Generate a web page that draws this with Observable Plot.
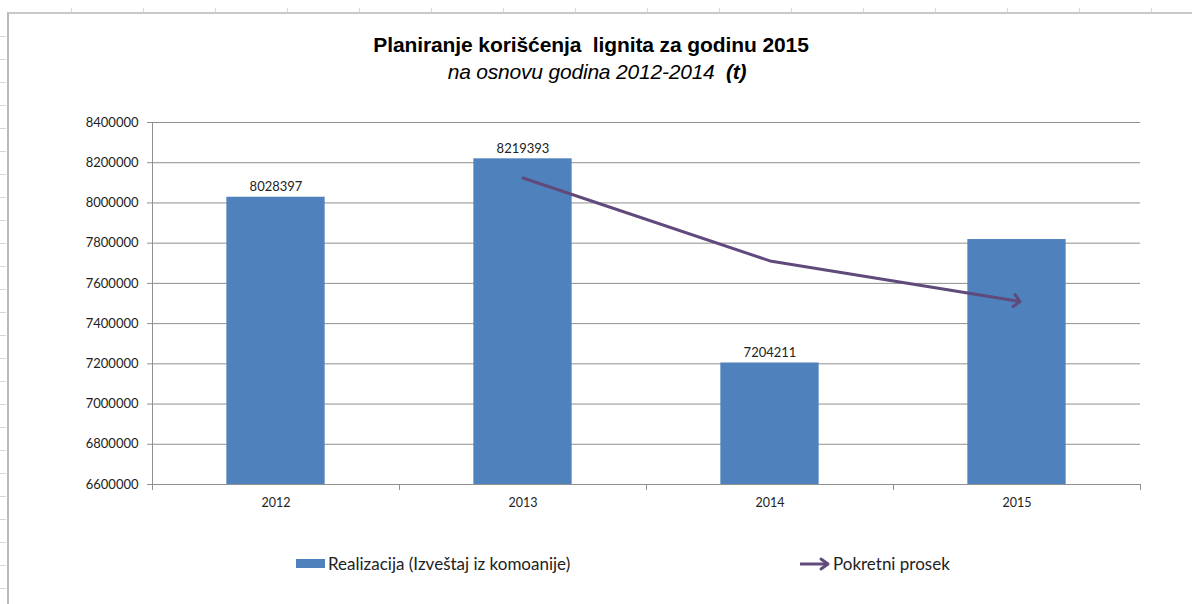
<!DOCTYPE html>
<html>
<head>
<meta charset="utf-8">
<script src="https://cdn.jsdelivr.net/npm/d3@7"></script>
<script src="https://cdn.jsdelivr.net/npm/@observablehq/plot@0.6"></script>
<style>
  html, body { margin: 0; padding: 0; background: #fff; }
  #page { position: relative; width: 1192px; height: 604px; overflow: hidden; background: #fff; }
  #sheetTop { position: absolute; left: 0; top: 8px; width: 1192px; height: 5px;
    background: repeating-linear-gradient(90deg, transparent 0 71px, #d6d6d6 71px 72px); }
  #sheetLeft { position: absolute; left: 0; top: 14px; width: 6px; height: 590px;
    background: repeating-linear-gradient(180deg, transparent 0 22px, #d6d6d6 22px 23px); }
  #frame { position: absolute; left: 7px; top: 12px; width: 1190px; height: 600px;
    border-top: 2px solid #c8c8c8; border-left: 2px solid #b8b8b8; box-sizing: border-box; }
  #chart { position: absolute; left: 0; top: 0; }
  .title { position: absolute; left: 0; width: 1192px; text-align: center; font-family: "Liberation Sans", Arial, sans-serif; color: #000; white-space: pre; }
  #t1 { top: 33px; left: -5px; font-size: 21px; font-weight: bold; letter-spacing: -0.1px; }
  #t2 { top: 60px; left: 1px; font-size: 21px; font-style: italic; letter-spacing: -0.2px; }
  .legend { position: absolute; top: 553px; font-family: Lato, "Open Sans", sans-serif; font-size: 17px; color: #222; display: flex; align-items: center; white-space: nowrap; }
  .swatch { display: inline-block; width: 29px; height: 9px; background: #4F81BD; margin-right: 3px; }
</style>
</head>
<body>
<div id="page">
  <div id="sheetTop"></div>
  <div id="sheetLeft"></div>
  <div id="frame"></div>
  <div id="chart"></div>
  <div class="title" id="t1"></div>
  <div class="title" id="t2"></div>
  <div class="legend" id="leg1" style="left:296px"></div>
  <div class="legend" id="leg2" style="left:799px"></div>
</div>
<script>
// ---- data ----
const years = [2012, 2013, 2014, 2015];
const realizacija = [8028397, 8219393, 7204211, 7818000];
const labeledYears = [2012, 2013, 2014];
const labelTexts = ["8028397", "8219393", "7204211"];
const prosekYears = [2013, 2014, 2015];
const prosekValues = [8123895, 7711802, 7512105];
const yTicks = [6600000, 6800000, 7000000, 7200000, 7400000, 7600000, 7800000, 8000000, 8200000, 8400000];
const categoryEdges = [2011.5, 2012.5, 2013.5, 2014.5, 2015.5];

const titleText = "Planiranje korišćenja  lignita za godinu 2015";
const subtitleText = "na osnovu godina 2012-2014 ";
const subtitleUnit = "(t)";
const seriesBars = "Realizacija (Izveštaj iz komoanije)";
const seriesLine = "Pokretni prosek";

// ---- build tables ----
const barData = years.map((year, i) => ({year, value: realizacija[i]}));
const labelData = labeledYears.map((year, i) => ({year, value: realizacija[years.indexOf(year)], label: labelTexts[i]}));
const lineData = prosekYears.map((year, i) => ({year, value: prosekValues[i]}));

const barColor = "#4F81BD";
const lineColor = "#604A7B";
const gridColor = "#8f8f8f";
const halfBar = 0.199;

const chart = Plot.plot({
  width: 1192,
  height: 604,
  marginLeft: 152,
  marginRight: 52,
  marginTop: 122,
  marginBottom: 120,
  x: {type: "linear", domain: [categoryEdges[0], categoryEdges[categoryEdges.length - 1]], label: null},
  y: {domain: [yTicks[0], yTicks[yTicks.length - 1]], label: null},
  style: {fontFamily: "Lato, 'Open Sans', sans-serif", fontSize: "13px", color: "#222", background: "transparent"},
  marks: [
    Plot.gridY(yTicks, {stroke: gridColor, strokeOpacity: 1}),
    Plot.rectY(barData, {x1: d => d.year - halfBar, x2: d => d.year + halfBar, y1: yTicks[0], y2: "value", fill: barColor}),
    Plot.ruleY([yTicks[0]], {stroke: gridColor}),
    Plot.ruleX([categoryEdges[0]], {stroke: gridColor}),
    Plot.axisY(yTicks, {tickFormat: d => String(d), tickSize: 5, tickPadding: 9, stroke: gridColor, fill: "#222", label: null}),
    Plot.axisX(categoryEdges, {tickFormat: () => "", tickSize: 6, stroke: gridColor, label: null}),
    Plot.axisX(years, {tickFormat: d => String(d), tickSize: 0, tickPadding: 14, fill: "#222", fontSize: 12.5, label: null}),
    Plot.text(labelData, {x: "year", y: "value", text: "label", dy: -10, fill: "#222", fontSize: 13}),
    Plot.line(lineData, {x: "year", y: "value", stroke: lineColor, strokeWidth: 3, curve: "linear", strokeLinejoin: "round", markerEnd: "arrow"})
  ]
});
document.getElementById("chart").appendChild(chart);

document.getElementById("t1").textContent = titleText;
const t2 = document.getElementById("t2");
t2.appendChild(document.createTextNode(subtitleText));
const unit = document.createElement("b");
unit.textContent = " " + subtitleUnit;
t2.appendChild(unit);

const leg1 = document.getElementById("leg1");
const sw = document.createElement("span");
sw.className = "swatch";
leg1.appendChild(sw);
leg1.appendChild(document.createTextNode(seriesBars));

const leg2 = document.getElementById("leg2");
leg2.innerHTML = `<svg width="32" height="16" style="margin-right:2px"><line x1="1" y1="8" x2="28" y2="8" stroke="${lineColor}" stroke-width="3"/><path d="M22,3 L29,8 L22,13" fill="none" stroke="${lineColor}" stroke-width="3" stroke-linecap="round" stroke-linejoin="round"/></svg>`;
leg2.appendChild(document.createTextNode(seriesLine));
</script>
</body>
</html>
